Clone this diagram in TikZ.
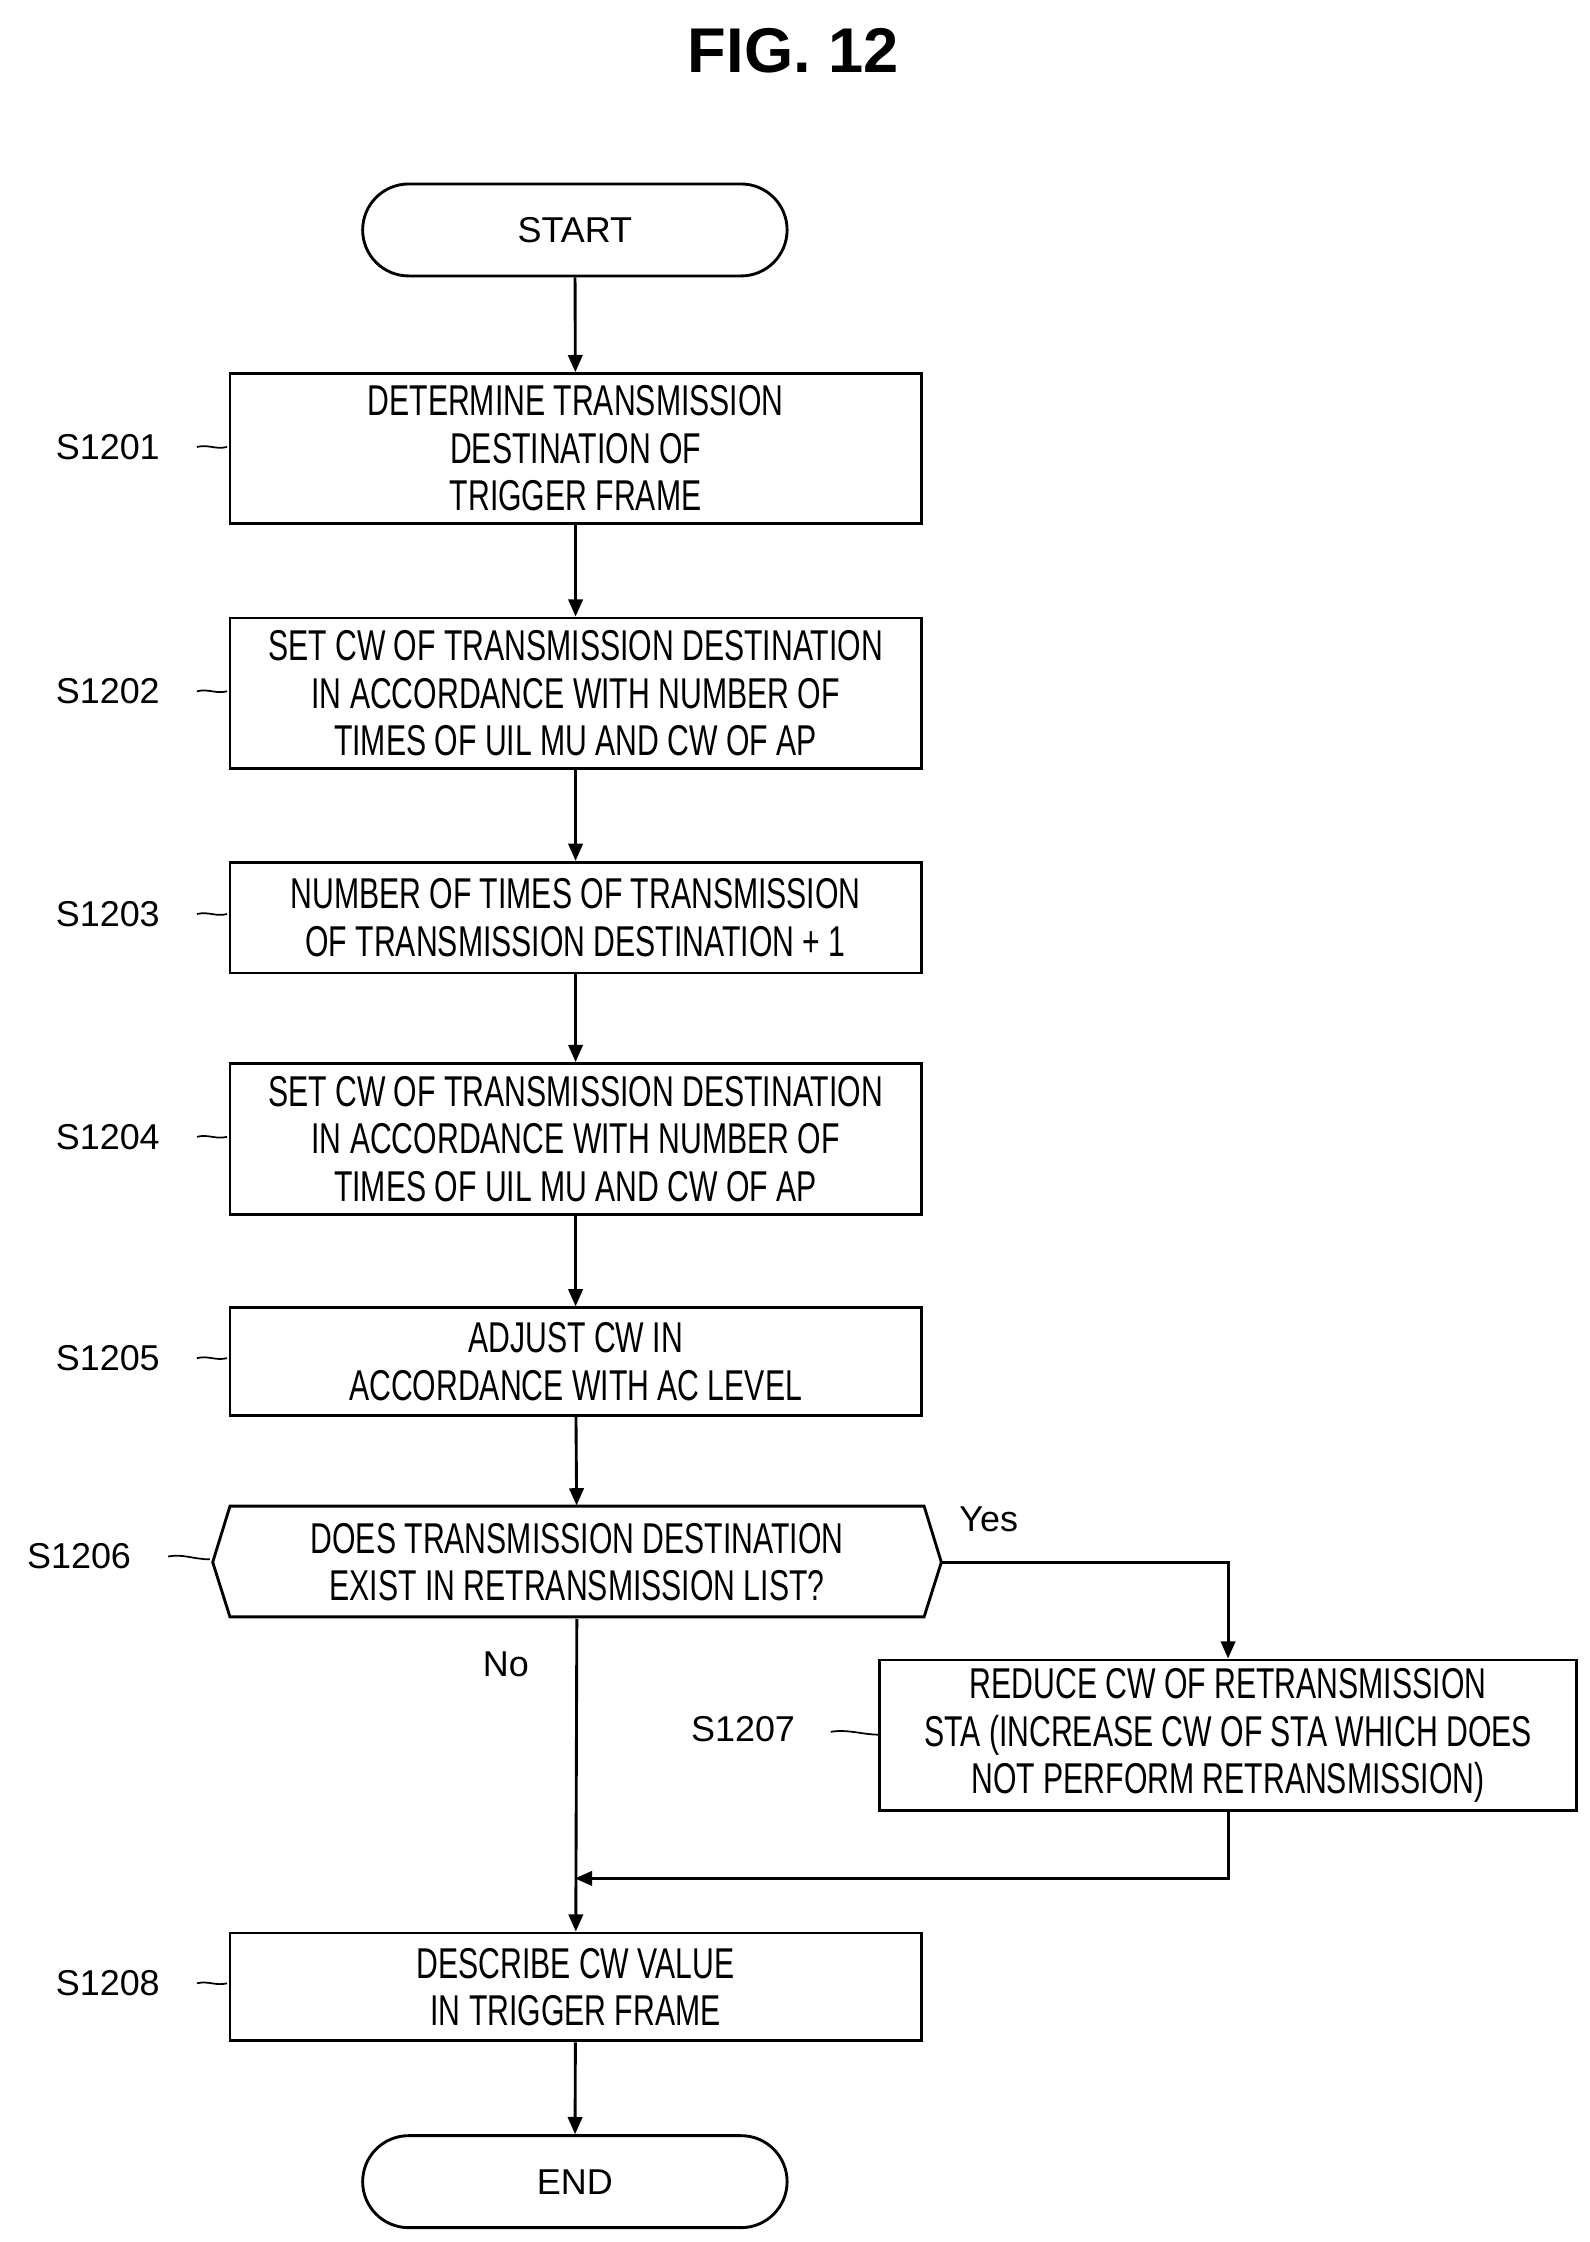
\documentclass[tikz,border=0pt]{standalone}
\usepackage{fontspec}
\setmainfont{Liberation Sans}
\newfontfamily\cond[FakeStretch=0.7]{Liberation Sans}
\usetikzlibrary{shapes.misc,arrows.meta}
\begin{document}
\begin{tikzpicture}[x=1pt,y=-1pt,
 box/.style={draw,line width=2pt,minimum width=481pt,align=center,inner sep=2pt,font=\cond\fontsize{30}{33}\selectfont},
 term/.style={draw,line width=2pt,rounded rectangle,minimum width=302pt,minimum height=64pt,font=\fontsize{25}{28}\selectfont},
 lab/.style={font=\fontsize{25}{28}\selectfont},
 ar/.style={line width=2pt,-{Triangle[length=12pt,width=10pt]}},
 ld/.style={line width=1.2pt}]
\useasboundingbox (0,0) rectangle (1106,1560);
\node[font=\bfseries\fontsize{44}{48}\selectfont] (t) at (552,35) {FIG. 12};
\node[term] (st) at (400,160) {START};
\node[box,minimum height=104pt] (b1) at (400.5,312) {DETERMINE TRANSMISSION\\DESTINATION OF\\TRIGGER FRAME};
\node[box,minimum height=105pt] (b2) at (400.5,482.5) {SET CW OF TRANSMISSION DESTINATION\\IN ACCORDANCE WITH NUMBER OF\\TIMES OF UIL MU AND CW OF AP};
\node[box,minimum height=77pt] (b3) at (400.5,638.5) {NUMBER OF TIMES OF TRANSMISSION\\OF TRANSMISSION DESTINATION + 1};
\node[box,minimum height=105pt] (b4) at (400.5,792.5) {SET CW OF TRANSMISSION DESTINATION\\IN ACCORDANCE WITH NUMBER OF\\TIMES OF UIL MU AND CW OF AP};
\node[box,minimum height=75pt] (b5) at (400.5,947.5) {ADJUST CW IN\\ACCORDANCE WITH AC LEVEL};
\node[box,draw=none,minimum width=460pt,minimum height=77pt] (b6) at (401.5,1087) {DOES TRANSMISSION DESTINATION\\EXIST IN RETRANSMISSION LIST?};
\draw[line width=2pt] (148,1087)--(160,1048)--(643,1048)--(655,1087)--(643,1125)--(160,1125)--cycle;
\coordinate (b6r) at (655,1087);
\node[box,minimum width=485pt,minimum height=105pt] (b7) at (854.5,1207.5) {REDUCE CW OF RETRANSMISSION\\STA (INCREASE CW OF STA WHICH DOES\\NOT PERFORM RETRANSMISSION)};
\node[box,minimum height=75pt] (b8) at (400.5,1382.5) {DESCRIBE CW VALUE\\IN TRIGGER FRAME};
\node[term] (en) at (400,1518) {END};
\coordinate (m) at (400,1307);
\draw[ar] (st)--(b1);
\draw[ar] (b1)--(b2);
\draw[ar] (b2)--(b3);
\draw[ar] (b3)--(b4);
\draw[ar] (b4)--(b5);
\draw[ar] (b5)--(b6);
\draw[ar] (b6r)-|(b7);
\draw[ar] (b6)--(b8);
\draw[ar] (b7.south)|-(m);
\draw[ar] (b8)--(en);
\node[lab] (y) at (688,1057) {Yes};
\node[lab] (n) at (352,1158) {No};
\foreach \n/\y/\t in {l1/311/S1201,l2/481/S1202,l3/636/S1203,l4/791/S1204,l5/945/S1205,l8/1380/S1208}{
 \node[lab] (\n) at (75,\y) {\t};
 \draw[ld] (137,\y) .. controls (145,\y-2) and (150,\y+2) .. (158,\y);}
\node[lab] (l6) at (55,1083) {S1206};
\draw[ld] (117,1083) .. controls (127,1081) and (135,1085) .. (146,1085);
\node[lab] (l7) at (517,1203) {S1207};
\draw[ld] (578,1205) .. controls (590,1203) and (600,1207) .. (612,1207);
\end{tikzpicture}
\end{document}
